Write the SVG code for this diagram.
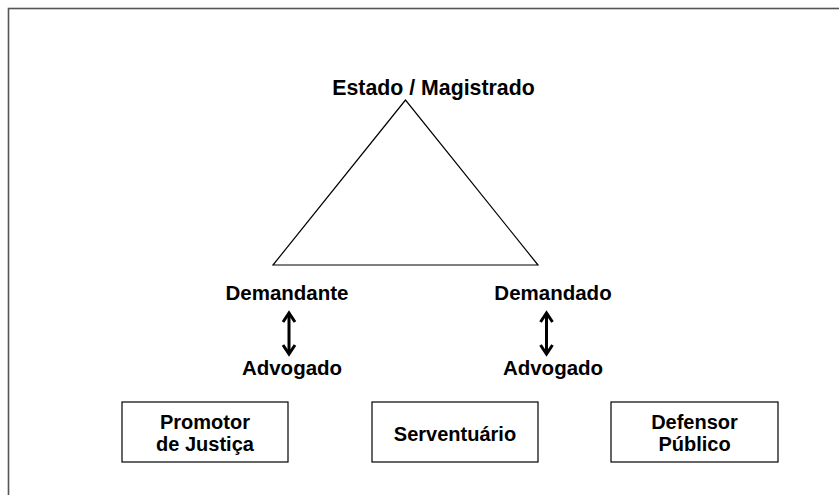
<svg xmlns="http://www.w3.org/2000/svg" width="839" height="495" viewBox="0 0 839 495">
<style>
  .lbl { font-family: "Liberation Sans", Arial, sans-serif; font-weight: bold; font-size: 20.5px; fill: #000; text-anchor: middle; }
  .box { fill: #fff; stroke: #000; stroke-width: 1.2; }
  .btxt { font-family: "Liberation Sans", Arial, sans-serif; font-weight: bold; font-size: 20px; fill: #000; text-anchor: middle; }
  .conn { stroke: #000; stroke-width: 3; fill: none; }
  .head { stroke: #000; stroke-width: 3; fill: none; stroke-linejoin: miter; }
</style>
<rect x="0" y="0" width="839" height="495" fill="#fff"/>
<rect x="8.5" y="8.5" width="840" height="500" fill="none" stroke="#555" stroke-width="1.6"/>
<g id="triangle">
  <polygon points="405.5,100 273,265 538,265" fill="none" stroke="#000" stroke-width="1.2"/>
</g>
<g id="estado"><text class="lbl" x="433.5" y="95" style="font-size:21.3px">Estado / Magistrado</text></g>
<g id="demandante"><text class="lbl" x="287" y="300">Demandante</text></g>
<g id="demandado"><text class="lbl" x="553" y="300">Demandado</text></g>
<g id="advogado1"><text class="lbl" x="292" y="375">Advogado</text></g>
<g id="advogado2"><text class="lbl" x="553" y="375">Advogado</text></g>
<g id="promotor">
  <rect class="box" x="122" y="402" width="166" height="60"/>
  <text class="btxt" x="205" y="429">Promotor</text>
  <text class="btxt" x="205" y="451">de Justiça</text>
</g>
<g id="serventuario">
  <rect class="box" x="372" y="402" width="166" height="60"/>
  <text class="btxt" x="455" y="441">Serventuário</text>
</g>
<g id="defensor">
  <rect class="box" x="611" y="402" width="167" height="60"/>
  <text class="btxt" x="694.5" y="429">Defensor</text>
  <text class="btxt" x="694.5" y="451">Público</text>
</g>
<g id="connectors">
  <line class="conn" x1="289" y1="314" x2="289" y2="353"/>
  <polyline class="head" points="283,322 289,313 295,322"/>
  <polyline class="head" points="283,345 289,354 295,345"/>
  <line class="conn" x1="546.5" y1="314" x2="546.5" y2="353"/>
  <polyline class="head" points="540.5,322 546.5,313 552.5,322"/>
  <polyline class="head" points="540.5,345 546.5,354 552.5,345"/>
</g>
</svg>
